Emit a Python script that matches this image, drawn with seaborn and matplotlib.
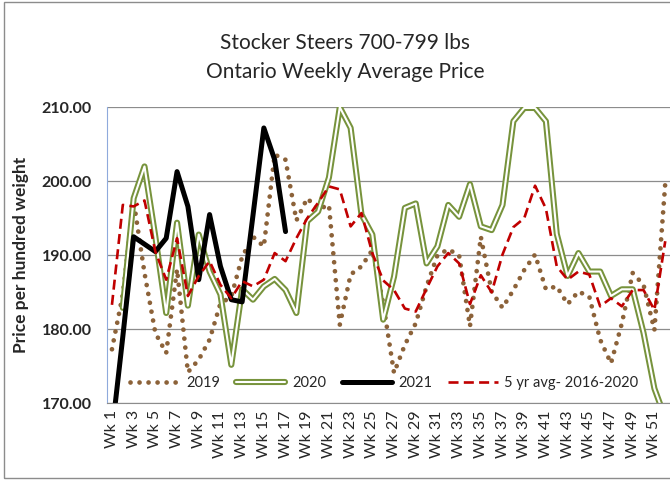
import numpy as np
import pandas as pd
import matplotlib
matplotlib.use('Agg')
import matplotlib.pyplot as plt
from matplotlib.lines import Line2D
from matplotlib.legend_handler import HandlerTuple
from matplotlib.patches import Rectangle
import seaborn as sns

weeks = ['Wk %d' % i for i in range(1, 53)]

y2019 = [177.3, 184.7, 197.3, 187.6, 179.5, 176.8, 188.1, 174.2, 175.9, 178.6,
         183.5, 184.4, 189.8, 192.5, 191.2, 203.6, 202.9, 194.7, 197.7, 196.2,
         196.8, 180.6, 187.4, 188.5, 190.7, 183.5, 174.1, 177.9, 180.8, 185.8,
         190.0, 190.8, 190.0, 180.4, 192.5, 185.1, 182.9, 185.3, 188.0, 190.1,
         185.4, 185.8, 183.4, 185.1, 184.4, 178.6, 175.4, 180.8, 187.6, 186.0,
         179.9, 199.7]
# week 1 of 2020 not shown on the chart
y2020 = [np.nan, 182.9, 197.7, 202.0, 192.5, 182.2, 194.4, 183.2, 192.8, 187.8,
         184.7, 175.2, 185.4, 184.0, 185.8, 186.8, 185.3, 182.2, 194.6, 195.9,
         200.5, 210.0, 207.2, 195.5, 192.8, 181.3, 187.1, 196.4, 197.0, 188.9,
         191.2, 196.8, 195.2, 199.6, 193.9, 193.4, 196.8, 208.1, 209.9, 209.9,
         208.1, 192.9, 187.2, 190.3, 187.8, 187.8, 184.5, 185.4, 185.4, 179.5,
         172.0, 168.0]
y2021 = [166.0, 179.0, 192.5, 191.5, 190.5, 192.3, 201.3, 196.6, 186.7, 195.5,
         188.5, 184.0, 183.7, 195.4, 207.2, 202.9, 193.2]
avg5 = [183.3, 196.8, 196.6, 197.4, 190.5, 186.7, 192.3, 184.5, 187.2, 189.2,
        186.0, 184.2, 186.5, 185.8, 186.7, 190.3, 189.2, 192.3, 195.0, 197.1,
        199.3, 198.9, 193.9, 195.7, 190.3, 186.6, 185.3, 182.8, 182.4, 185.5,
        188.5, 190.3, 188.9, 183.4, 187.3, 185.0, 190.1, 193.8, 195.0, 199.4,
        196.3, 188.5, 186.7, 187.8, 187.4, 183.1, 184.2, 183.1, 185.3, 185.3,
        182.6, 191.9]

sns.set_style('white')
plt.rcParams['font.family'] = ['Lato', 'DejaVu Sans']

c19 = '#8C6239'
c20 = '#77933C'
cav = '#C00000'
dots = (0, (0.01, 1.9))
dash = (0, (3.8, 2.0))

fig = plt.figure(figsize=(6.7, 4.83), dpi=100)
ax = fig.add_axes([0.159, 0.165, 0.842, 0.613])

x = np.arange(52)
sns.lineplot(x=x, y=y2019, ax=ax, color=c19, lw=3.4,
             linestyle=dots, dash_capstyle='round', solid_capstyle='round')
sns.lineplot(x=x, y=y2020, ax=ax, color=c20, lw=4.4)
sns.lineplot(x=x, y=y2020, ax=ax, color='white', lw=1.5)
sns.lineplot(x=np.arange(len(y2021)), y=y2021, ax=ax, color='black', lw=3.6)
sns.lineplot(x=x, y=avg5, ax=ax, color=cav, lw=1.9, linestyle=dash)

ax.set_xlim(-0.5, 51.5)
ax.set_ylim(170, 210)
ax.set_yticks([170, 180, 190, 200, 210])
ax.set_yticklabels(['%.2f' % v for v in [170, 180, 190, 200, 210]],
                   fontsize=11.5, fontweight='bold')
ax.yaxis.grid(True, color='#8C8C8C', lw=0.9)
ax.set_axisbelow(True)

ax.set_xticks(np.arange(-0.5, 52, 1), minor=True)
ax.set_xticks(np.arange(0, 52, 2))
ax.set_xticklabels(weeks[::2], rotation=90, fontsize=11.5)
ax.tick_params(axis='x', which='major', length=0, pad=5)
ax.tick_params(axis='x', which='minor', length=5, color='#8C8C8C', direction='out')
ax.tick_params(axis='y', length=5, color='#8FAADC', direction='inout', pad=8)

for s in ['top', 'right']:
    ax.spines[s].set_visible(False)
ax.spines['left'].set_color('#8FAADC')
ax.spines['bottom'].set_color('#8C8C8C')

ax.set_ylabel('Price per hundred weight', fontsize=12.5, fontweight='bold', labelpad=9)
ax.set_xlabel('')

fig.text(0.515, 0.912, 'Stocker Steers 700-799 lbs', ha='center', va='center', fontsize=15)
fig.text(0.515, 0.850, 'Ontario Weekly Average Price', ha='center', va='center', fontsize=15)

h19 = Line2D([], [], color=c19, lw=3.4, linestyle=dots, dash_capstyle='round')
h20 = (Line2D([], [], color=c20, lw=4.4), Line2D([], [], color='white', lw=1.5))
h21 = Line2D([], [], color='black', lw=3.6)
hav = Line2D([], [], color=cav, lw=1.9, linestyle=dash)
ax.legend([h19, h20, h21, hav], ['2019', '2020', '2021', '5 yr avg- 2016-2020'],
          handler_map={tuple: HandlerTuple(ndivide=1)},
          loc='center', bbox_to_anchor=(0.492, 0.069), ncol=4, frameon=False,
          fontsize=10.5, handlelength=3.4, handletextpad=0.45, columnspacing=1.1)

fig.patches.append(Rectangle((0.006, 0.01), 1.2, 0.985, transform=fig.transFigure,
                             fill=False, edgecolor='#8C8C8C', lw=1.0))

fig.savefig('out.png', dpi=100)
